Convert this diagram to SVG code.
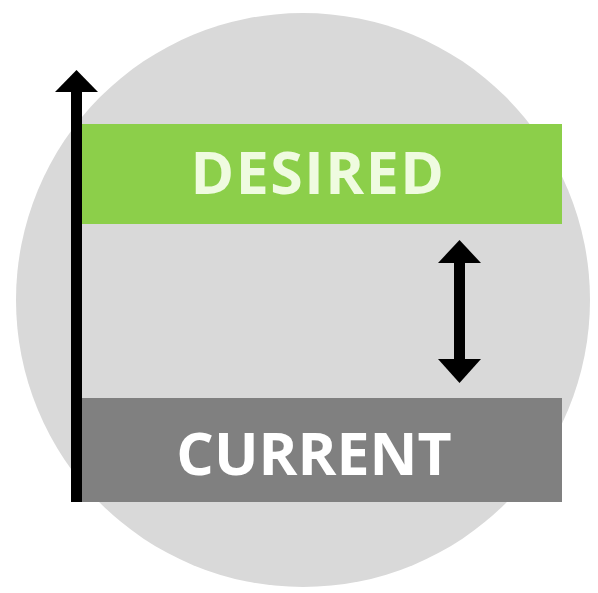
<svg xmlns="http://www.w3.org/2000/svg" width="598" height="593" viewBox="0 0 598 593">
<style>
.lbl{font-family:"Open Sans","Liberation Sans",sans-serif;font-weight:700;font-size:59px;text-anchor:middle}
.ar{fill:#000}
</style>
<rect width="598" height="593" fill="#ffffff"/>
<circle cx="303" cy="300" r="287" fill="#d9d9d9"/>
<g id="desired">
<rect x="82" y="124" width="480" height="100" fill="#8ccf4a"/>
<text class="lbl" x="318" y="194" fill="#effbe0" letter-spacing="1.5">DESIRED</text>
</g>
<g id="current">
<rect x="82" y="398" width="480" height="104" fill="#808080"/>
<text class="lbl" x="314" y="475" fill="#ffffff">CURRENT</text>
</g>
<g id="connectors">
<rect class="ar" x="71" y="90" width="11" height="412"/>
<polygon class="ar" points="76.5,70 98,92 55,92"/>
<rect class="ar" x="454" y="260" width="11" height="102"/>
<polygon class="ar" points="459.5,240 481,263 438,263"/>
<polygon class="ar" points="459.5,383 481,359 438,359"/>
</g>
</svg>
